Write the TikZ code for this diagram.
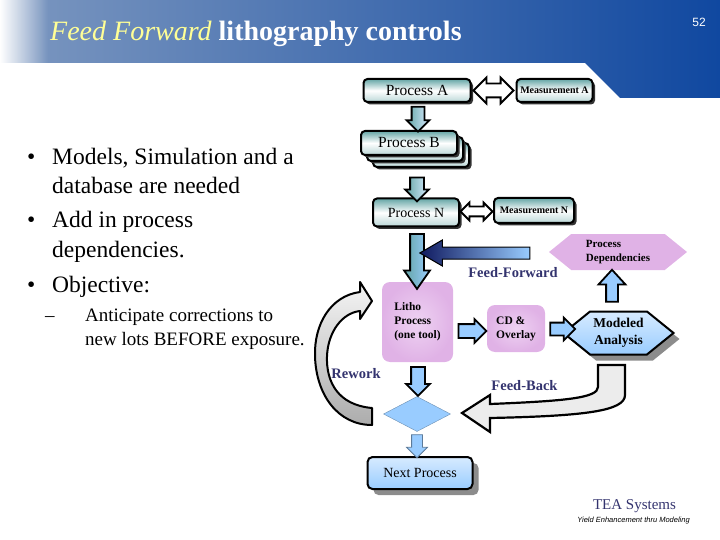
\documentclass[tikz,border=0pt]{standalone}
\usepackage{fontspec}
\setmainfont{Liberation Serif}
\newfontfamily\slidesans{Liberation Sans}
\usetikzlibrary{calc,shapes.arrows,shapes.geometric,shapes.symbols,shadows,fadings}

\definecolor{bandlight}{RGB}{125,152,192}
\definecolor{banddark}{RGB}{16,72,160}
\definecolor{titleyellow}{RGB}{255,255,150}
\definecolor{labelnavy}{RGB}{51,51,110}
\definecolor{procteal}{RGB}{100,165,165}
\definecolor{lithopink}{RGB}{224,178,230}
\definecolor{softpink}{RGB}{238,210,242}
\definecolor{skyblue}{RGB}{153,204,255}
\definecolor{paleblue}{RGB}{215,235,255}
\definecolor{deepnavy}{RGB}{15,25,95}

\begin{document}
\begin{tikzpicture}[x=1pt,y=-1pt,
    % boxes of the process chain
    procbox/.style={draw=black, line width=2pt, rounded corners=4pt, inner sep=0pt,
        top color=procteal, bottom color=procteal!45, middle color=white,
        drop shadow={shadow xshift=2.5pt, shadow yshift=-2.5pt, fill=black!80, opacity=1}},
    measbox/.style={procbox, font=\bfseries\fontsize{10}{12}\selectfont},
    pinkbox/.style={rounded corners=8pt, inner color=softpink, outer color=lithopink,
        align=left, font=\bfseries\fontsize{11.5}{14}\selectfont},
    bluehex/.style={signal, signal to=east and west, signal pointer angle=78,
        draw=black, line width=2pt, top color=paleblue, bottom color=skyblue,
        drop shadow={shadow xshift=6pt, shadow yshift=-6pt, fill=black!45, opacity=1},
        align=center, font=\bfseries\fontsize{13.5}{17}\selectfont},
    pinkhex/.style={signal, signal to=east and west, signal pointer angle=78,
        fill=lithopink, align=left, font=\bfseries\fontsize{11}{14}\selectfont},
    % block arrows, drawn pointing right and turned with rotate
    blockarrow/.style={single arrow, draw=black, line width=1.8pt, inner xsep=0pt,
        single arrow head indent=0pt, fill=skyblue},
    twinarrow/.style={double arrow, draw=black, line width=1.8pt, inner xsep=0pt,
        fill=white},
    flowlabel/.style={text=labelnavy, font=\bfseries\fontsize{14.5}{17}\selectfont},
    bullettext/.style={anchor=base west, inner sep=0pt, font=\fontsize{23.5}{29}\selectfont},
    subtext/.style={anchor=base west, inner sep=0pt, font=\fontsize{19}{24}\selectfont}
]
    \useasboundingbox (0,0) rectangle (720,540);

    % title band
    \shade[left color=bandlight, right color=banddark]
        (0,0) -- (720,0) -- (720,98) -- (620,98) -- (585,63) -- (0,63) -- cycle;
    \fill[white, path fading=east] (0,0) rectangle (48,63);
    \node[anchor=base west, inner sep=0pt, text=white, font=\fontsize{28}{32}\selectfont]
        (title) at (50,41) {\textit{\color{titleyellow}Feed Forward} \textbf{lithography controls}};
    \node[text=white, font=\slidesans\fontsize{12}{14}\selectfont] (pagenum) at (699,22) {52};

    % bullet list
    \node[bullettext] (dot1) at (27,165) {•};
    \node[bullettext] (line1a) at (52,165) {Models, Simulation and a};
    \node[bullettext] (line1b) at (52,194) {database are needed};
    \node[bullettext] (dot2) at (27,228) {•};
    \node[bullettext] (line2a) at (52,228) {Add in process};
    \node[bullettext] (line2b) at (52,257) {dependencies.};
    \node[bullettext] (dot3) at (27,292) {•};
    \node[bullettext] (line3a) at (52,292) {Objective:};
    \node[subtext] (dash1) at (45,321) {–};
    \node[subtext] (line4a) at (85,321) {Anticipate corrections to};
    \node[subtext] (line4b) at (85,345) {new lots BEFORE exposure.};

    % process chain with its measurements
    \node[procbox, minimum width=107pt, minimum height=23pt, font=\fontsize{15.5}{18}\selectfont]
        (procA) at (417,90.5) {Process A};
    \node[measbox, minimum width=76pt, minimum height=23pt] (measA) at (554.5,90.5) {Measurement A};
    \node[procbox, minimum width=96pt, minimum height=24pt] (procBb) at (421,155) {};
    \node[procbox, minimum width=96pt, minimum height=24pt] (procBc) at (415,149) {};
    \node[procbox, minimum width=96pt, minimum height=24pt, font=\fontsize{15.5}{18}\selectfont]
        (procB) at (409,143) {Process B};
    \node[procbox, minimum width=86pt, minimum height=28pt, font=\fontsize{14}{17}\selectfont]
        (procN) at (416,212.5) {Process N};
    \node[measbox, minimum width=80pt, minimum height=25pt] (measN) at (534,210.5) {Measurement N};

    \node[twinarrow, minimum height=40pt, inner ysep=6pt, double arrow head extend=6pt]
        (arrAMA) at ($(procA.east)!.5!(measA.west)$) {};
    \node[twinarrow, minimum height=32pt, inner ysep=4pt, double arrow head extend=4pt]
        (arrNMN) at ($(procN.east)!.5!(measN.west)$) {};
    \node[blockarrow, rotate=-90, minimum height=25pt, inner ysep=5.5pt, single arrow head extend=5pt,
        left color=procteal, right color=paleblue] (arrAB) at (418,116) {};
    \node[blockarrow, rotate=-90, minimum height=24pt, inner ysep=6pt, single arrow head extend=5pt,
        left color=procteal, right color=paleblue] (arrBN) at (417,186) {};

    % litho step and what follows it
    \node[pinkbox, minimum width=71pt, minimum height=80pt] (litho) at (417.5,322)
        {Litho\\Process\\(one tool)};
    \node[pinkbox, minimum width=58pt, minimum height=47pt] (cdOv) at (516,328.5) {CD \&\\Overlay};
    \node[bluehex, minimum width=95pt, minimum height=43pt] (modAn) at (618.5,333) {Modeled\\Analysis};
    \node[pinkhex, minimum width=138pt, minimum height=36pt] (procDep) at (618,252) {Process\\Dependencies};
    \node[diamond, fill=skyblue, draw=skyblue!70!black, line width=0.4pt, inner sep=0pt,
        minimum width=67pt, minimum height=35pt] (decide) at (417,414) {};
    \node[draw=black, line width=2pt, rounded corners=5pt, top color=paleblue, bottom color=skyblue,
        drop shadow={shadow xshift=6pt, shadow yshift=-6pt, fill=black!45, opacity=1},
        minimum width=105pt, minimum height=32pt, font=\fontsize{14}{17}\selectfont]
        (nextP) at (420,473) {Next Process};

    \node[blockarrow, rotate=-90, minimum height=55pt, inner ysep=6pt, single arrow head extend=6pt,
        single arrow tip angle=70, left color=procteal, right color=skyblue] (arrNL) at (417,256.5) {};
    \node[blockarrow, rotate=180, line width=1pt, minimum height=110pt, inner ysep=5.5pt,
        single arrow head extend=7pt, single arrow tip angle=60,
        left color=deepnavy, right color=skyblue] (arrFF) at (480,253) {};
    \node[blockarrow, minimum height=28pt, inner ysep=6pt, single arrow head extend=5pt]
        (arrLC) at (469,331) {};
    \node[blockarrow, minimum height=25pt, inner ysep=5.5pt, single arrow head extend=5pt]
        (arrCM) at (559.5,329) {};
    \node[blockarrow, rotate=90, minimum height=32pt, inner ysep=5pt, single arrow head extend=7.5pt,
        single arrow tip angle=85] (arrMP) at (612,289) {};
    \node[blockarrow, rotate=-90, minimum height=29pt, inner ysep=6pt, single arrow head extend=5pt]
        (arrLD) at (418,378) {};
    \node[blockarrow, rotate=-90, draw=skyblue!60!black, line width=0.8pt, minimum height=23pt,
        inner ysep=5pt, single arrow head extend=5pt] (arrDN) at (417,443.5) {};

    % rework loop back into the litho step
    \draw[line width=2pt, top color=gray!8, bottom color=gray!65, line join=round]
        (372,425) -- (372,408) .. controls (338,405) and (326,382) .. (327,356)
        .. controls (328,332) and (342,313) .. (360,311) -- (360,319) -- (372,301)
        -- (360,282) -- (360,292) .. controls (330,296) and (314,325) .. (315,356)
        .. controls (316,395) and (338,425) .. (372,425) -- cycle;

    % feed-back from the analysis to the decision
    \draw[line width=2.2pt, fill=gray!15]
        (598,365) -- (625,365) -- (625,395) .. controls (625,411) and (585,416) .. (490,418)
        -- (490,432) -- (462,413) -- (490,395) -- (490,404)
        .. controls (565,401) and (598,398) .. (598,387) -- cycle;

    % labels of the loops
    \node[flowlabel] (ffLabel) at (513,273) {Feed-Forward};
    \node[flowlabel] (fbLabel) at (524.5,386) {Feed-Back};
    \node[flowlabel] (rwLabel) at (356,374) {Rework};

    % footer
    \node[text=labelnavy, font=\fontsize{15}{18}\selectfont] (tea) at (634.5,506) {TEA Systems};
    \node[font=\slidesans\itshape\fontsize{7.5}{9}\selectfont] (teaSub) at (633.5,521)
        {Yield Enhancement thru Modeling};

\end{tikzpicture}
\end{document}
